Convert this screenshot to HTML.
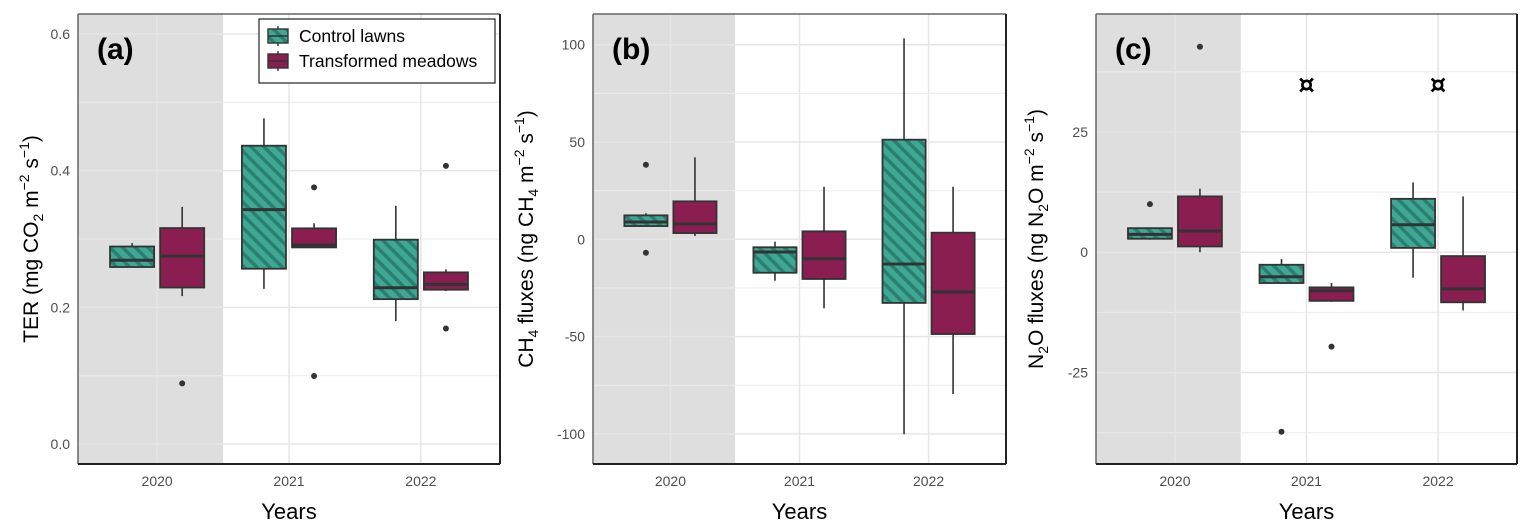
<!DOCTYPE html>
<html><head><meta charset="utf-8"><style>
html,body{margin:0;padding:0;background:#fff;}
svg{display:block;font-family:"Liberation Sans",Arial,sans-serif;}
</style></head><body>
<svg id="chart" width="1532" height="532" viewBox="0 0 1532 532" xmlns="http://www.w3.org/2000/svg">
<defs>
<pattern id="hatch" patternUnits="userSpaceOnUse" width="9" height="9" patternTransform="rotate(-45)">
<rect width="9" height="9" fill="#3ea894"/>
<rect x="0" y="0" width="3.5" height="9" fill="#2b7f70"/>
</pattern>
</defs>
<g id="root"></g>
</svg>
<script>
const years = ["2020","2021","2022"];
// stats: [lowerWhisker, Q1, median, Q3, upperWhisker]
const terControl = [[0.259,0.259,0.269,0.289,0.294],[0.227,0.2565,0.343,0.4365,0.4765],[0.18,0.212,0.2287,0.299,0.3486]];
const terTransformed = [[0.2165,0.229,0.275,0.316,0.347],[0.2877,0.2877,0.291,0.3156,0.323],[0.2238,0.2258,0.2336,0.2512,0.2556]];
const terControlOut = [[],[],[]];
const terTransformedOut = [[0.0888],[0.3755,0.0995],[0.407,0.169]];
const terTicks = [0.0,0.2,0.4,0.6];
const terTickLabels = ["0.0","0.2","0.4","0.6"];

const ch4Control = [[6.8,6.8,8.9,12.3,13.4],[-21.3,-17.2,-6.5,-4.1,-1.2],[-100.2,-32.7,-12.7,51.2,103.3]];
const ch4Transformed = [[1.7,3.2,7.9,19.5,42.1],[-35.5,-20.4,-10,4.1,27],[-79.5,-48.7,-27.1,3.4,27]];
const ch4ControlOut = [[38.3,-6.9],[],[]];
const ch4TransformedOut = [[],[],[]];
const ch4Ticks = [-100,-50,0,50,100];
const ch4TickLabels = ["-100","-50","0","50","100"];

const n2oControl = [[2.6,2.8,3.7,5.0,5.0],[-6.6,-6.4,-5.1,-2.6,-1.4],[-5.3,0.9,5.7,11.1,14.5]];
const n2oTransformed = [[0,1.2,4.4,11.6,13.2],[-10.3,-10.1,-8.0,-7.3,-6.4],[-12.1,-10.4,-7.6,-0.8,11.6]];
const n2oControlOut = [[10.0],[-37.3],[]];
const n2oTransformedOut = [[42.7],[-19.6],[]];
const n2oTicks = [-25,0,25];
const n2oTickLabels = ["-25","0","25"];
const n2oMarks = [null,35,35];

const NS="http://www.w3.org/2000/svg";
const root=document.getElementById('root');
function mk(tag,attrs,parent){const e=document.createElementNS(NS,tag);for(const k in attrs)e.setAttribute(k,attrs[k]);(parent||root).appendChild(e);return e;}

function panel(cfg){
  const g=mk('g',{});
  
  
  const {x0,x1,y0,y1,dmin,dmax}=cfg;
  const ys=v=>y1-(v-dmin)/(dmax-dmin)*(y1-y0);
  const unit=(x1-x0)/3.2;
  const xs=i=>x0+unit*(0.6+i);
  mk('rect',{x:x0,y:y0,width:x1-x0,height:y1-y0,fill:'#fff'},g);
  const shade=mk('rect',{x:x0,y:y0,width:xs(0)+unit*0.5-x0,height:y1-y0,fill:'#dedede'},g);
  
  
  for(let i=0;i<cfg.ticks.length-1;i++){const m=(cfg.ticks[i]+cfg.ticks[i+1])/2;mk('line',{x1:x0,x2:x1,y1:ys(m),y2:ys(m),stroke:'#ebebeb','stroke-width':1},g);}
  if(cfg.extraMinor) cfg.extraMinor.forEach(m=>mk('line',{x1:x0,x2:x1,y1:ys(m),y2:ys(m),stroke:'#ebebeb','stroke-width':1},g));
  cfg.ticks.forEach((t,i)=>{
    mk('line',{x1:x0,x2:x1,y1:ys(t),y2:ys(t),stroke:'#e6e6e6','stroke-width':1.5},g);
    const tl=mk('text',{x:x0-8,y:ys(t)+5,'text-anchor':'end','font-size':14,fill:'#4d4d4d'},g);
    tl.textContent=cfg.tickLabels[i];
    
    
  });
  years.forEach((yr,i)=>{
    mk('line',{x1:xs(i),x2:xs(i),y1:y0,y2:y1,stroke:'#e6e6e6','stroke-width':1.5},g);
    const t=mk('text',{x:xs(i),y:y1+22,'text-anchor':'middle','font-size':14,fill:'#4d4d4d'},g);
    t.textContent=yr;
    
    
  });
  const off=unit*0.19, hw=unit*0.167;
  function box(stats,outs,i,dir,fill,name){
    const cx=xs(i)+dir*off;
    const bg=mk('g',{},g);
    
    
    mk('line',{x1:cx,x2:cx,y1:ys(stats[0]),y2:ys(stats[4]),stroke:'#333','stroke-width':1.6},bg);
    mk('rect',{x:cx-hw,y:ys(stats[3]),width:2*hw,height:Math.max(1,ys(stats[1])-ys(stats[3])),fill:fill,stroke:'#333','stroke-width':1.8},bg);
    mk('line',{x1:cx-hw,x2:cx+hw,y1:ys(stats[2]),y2:ys(stats[2]),stroke:'#333','stroke-width':3},bg);
    outs.forEach(o=>{const c=mk('circle',{cx:cx,cy:ys(o),r:3,fill:'#333'},bg);
      
      });
  }
  for(let i=0;i<3;i++){
    box(cfg.ctrl[i],cfg.ctrlOut[i],i,-1,'url(#hatch)','control-lawns');
    box(cfg.tr[i],cfg.trOut[i],i,1,'#8b1e50','transformed-meadows');
  }
  if(cfg.marks) cfg.marks.forEach((m,i)=>{ if(m===null)return;
    const t=mk('text',{x:xs(i),y:ys(m)+9,'text-anchor':'middle','font-size':26,'font-weight':'bold',fill:'#000',
      'font-family':'"DejaVu Sans",sans-serif'},g); t.textContent='¤';
    
    });
  mk('line',{x1:x0,x2:x0,y1:y0,y2:y1,stroke:'#666','stroke-width':1.5},g);
  mk('line',{x1:x0,x2:x1,y1:y0,y2:y0,stroke:'#666','stroke-width':1.5},g);
  mk('line',{x1:x1,x2:x1,y1:y0,y2:y1,stroke:'#222','stroke-width':2},g);
  mk('line',{x1:x0,x2:x1,y1:y1,y2:y1,stroke:'#222','stroke-width':2},g);
  const lab=mk('text',{x:x0+19,y:y0+45,'font-size':30,'font-weight':'bold',fill:'#000'},g);
  lab.textContent=cfg.label;
  
  
  const xt=mk('text',{x:(x0+x1)/2,y:y1+55,'text-anchor':'middle','font-size':22,fill:'#000'},g);
  xt.textContent='Years';
  
  
  const yt=mk('text',{x:0,y:0,'text-anchor':'middle','font-size':21,fill:'#000',transform:`translate(${cfg.titleX},${(y0+y1)/2}) rotate(-90)`},g);
  
  
  yt.innerHTML=cfg.title;
}

panel({id:'ter',x0:78,x1:500,y0:14,y1:464,dmin:-0.0292,dmax:0.6292,ticks:terTicks,tickLabels:terTickLabels,
  ctrl:terControl,tr:terTransformed,ctrlOut:terControlOut,trOut:terTransformedOut,label:'(a)',titleX:38,
  title:'TER  (mg CO<tspan font-size="14" dy="5">2</tspan><tspan dy="-5"> m</tspan><tspan font-size="14" dy="-9">−2</tspan><tspan dy="9"> s</tspan><tspan font-size="14" dy="-9">−1</tspan><tspan dy="9">)</tspan>'});
panel({id:'ch4',x0:593,x1:1006,y0:14,y1:464,dmin:-115.5,dmax:115.8,ticks:ch4Ticks,tickLabels:ch4TickLabels,
  ctrl:ch4Control,tr:ch4Transformed,ctrlOut:ch4ControlOut,trOut:ch4TransformedOut,label:'(b)',titleX:533,
  title:'CH<tspan font-size="14" dy="5">4</tspan><tspan dy="-5"> fluxes  (ng CH</tspan><tspan font-size="14" dy="5">4</tspan><tspan dy="-5"> m</tspan><tspan font-size="14" dy="-9">−2</tspan><tspan dy="9"> s</tspan><tspan font-size="14" dy="-9">−1</tspan><tspan dy="9">)</tspan>'});
panel({id:'n2o',x0:1096,x1:1517,y0:14,y1:464,dmin:-44,dmax:49.5,ticks:n2oTicks,tickLabels:n2oTickLabels,extraMinor:[-37.5,37.5],
  ctrl:n2oControl,tr:n2oTransformed,ctrlOut:n2oControlOut,trOut:n2oTransformedOut,marks:n2oMarks,label:'(c)',titleX:1043,
  title:'N<tspan font-size="14" dy="5">2</tspan><tspan dy="-5">O fluxes  (ng N</tspan><tspan font-size="14" dy="5">2</tspan><tspan dy="-5">O m</tspan><tspan font-size="14" dy="-9">−2</tspan><tspan dy="9"> s</tspan><tspan font-size="14" dy="-9">−1</tspan><tspan dy="9">)</tspan>'});

const lg=mk('g',{});


mk('rect',{x:259,y:19,width:236,height:64,fill:'#fff',stroke:'#222','stroke-width':1.2},lg);
[['url(#hatch)','Control lawns',36,'legend-entry-control-lawns'],['#8b1e50','Transformed meadows',61,'legend-entry-transformed-meadows']].forEach(d=>{
  const e=mk('g',{},lg);
  
  
  mk('line',{x1:278,x2:278,y1:d[2]-10,y2:d[2]+10,stroke:'#333','stroke-width':1.4},e);
  mk('rect',{x:268,y:d[2]-7,width:20,height:14,fill:d[0],stroke:'#333','stroke-width':1.4},e);
  mk('line',{x1:268,x2:288,y1:d[2],y2:d[2],stroke:'#333','stroke-width':1.6},e);
  const t=mk('text',{x:299,y:d[2]+6,'font-size':17.5,fill:'#000'},e); t.textContent=d[1];
});
</script>
</body></html>
